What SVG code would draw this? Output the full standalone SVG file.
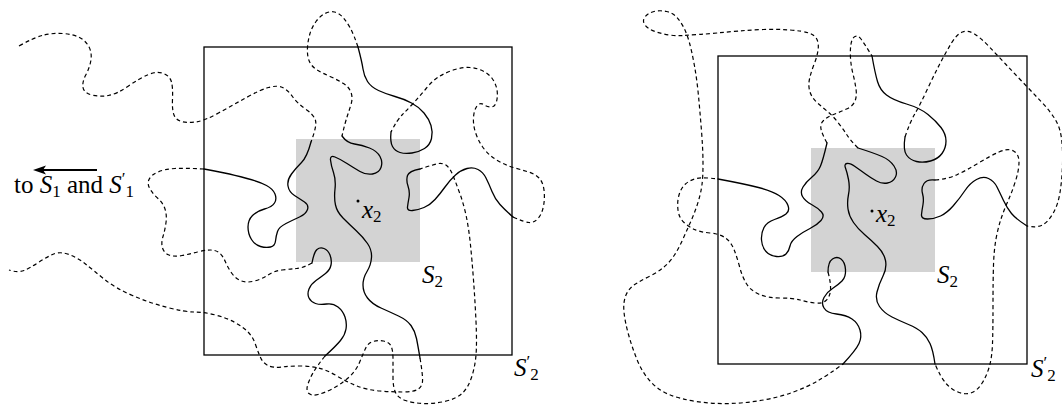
<svg xmlns="http://www.w3.org/2000/svg" width="1062" height="405" viewBox="0 0 1062 405">
<style>
.box{fill:none;stroke:#000;stroke-width:1.3}
.gray{fill:#d3d3d3;stroke:none}
.sol{fill:none;stroke:#000;stroke-width:1.3;stroke-linecap:round}
.das{fill:none;stroke:#000;stroke-width:1.2;stroke-dasharray:4 3}
text{font-family:'Liberation Serif','DejaVu Serif',serif;fill:#000}
.t{font-size:25px}
.m{font-style:italic;font-size:25px}
.s{font-style:normal;font-size:17px}
</style>
<rect width="1062" height="405" fill="#fff"/>
<g id="left-panel">
<rect id="left-S2" class="gray" x="296" y="139" width="124" height="123"/>
<g id="left-curves">
<path class="das" d="M19,46 Q35,37 44,35 Q53,33 62.5,33.5 Q72,34 78.5,37 Q85,40 88.5,46 Q92,52 91,59.5 Q90,67 86,74.5 Q82,82 83,87.5 Q84,93 92,95 Q100,97 108.5,95.5 Q117,94 128.5,86 Q140,78 148.5,74.5 Q157,71 163.5,73.5 Q170,76 171.5,82 Q173,88 172.5,99 Q172,110 174,115 Q176,120 181.5,121.5 Q187,123 195.5,122 Q204,121 218.5,113 Q233,105 246.5,97.5 Q260,90 268.5,87.5 Q277,85 282.5,87.5 Q288,90 292.5,96.5 Q297,103 305.5,109 Q314,115 315.5,120.5 Q317,126 311,142"/>
<path class="sol" d="M311,142 Q307,157 301.5,162.5 Q296,168 291.5,174 Q287,180 288,186 Q289,192 294.5,195.5 Q300,199 304.5,202 Q309,205 307.5,209.5 Q306,214 299.5,217 Q293,220 286,223.5 Q279,227 277.5,231.5 Q276,236 275.5,241 Q275,246 270.5,247 Q266,248 260.5,246.5 Q255,245 251.5,239.5 Q248,234 248,227 Q248,220 252.5,215.5 Q257,211 264.5,209 Q272,207 274.5,203 Q277,199 275,194 Q273,189 266.5,185.5 Q260,182 247,178.5 Q234,175 224.5,173 Q215,171 204,169"/>
<path class="das" d="M204,169 Q185,168 175,168.5 Q165,169 158,172 Q151,175 149,179.5 Q147,184 150,189 Q153,194 158,198.5 Q163,203 165,209 Q167,215 166,222.5 Q165,230 163,236.5 Q161,243 162.5,248 Q164,253 169,255 Q174,257 182,255.5 Q190,254 197.5,252 Q205,250 210.5,250 Q216,250 219.5,253 Q223,256 225.5,262 Q228,268 232,273.5 Q236,279 241.5,281 Q247,283 254.5,281 Q262,279 268,275 Q274,271 282,270 Q290,269 296.5,268.5 Q303,268 312,263"/>
<path class="sol" d="M312,263 Q314,252 317,249.5 Q320,247 324,248.5 Q328,250 330,255 Q332,260 331,265 Q330,270 325.5,273.5 Q321,277 316,280.5 Q311,284 309,289 Q307,294 309,298 Q311,302 315.5,303.5 Q320,305 326.5,304 Q333,303 338,307 Q343,311 345,317 Q347,323 346,329 Q345,335 340.5,340.5 Q336,346 325,356"/>
<path class="das" d="M325,356 Q317,366 313,373 Q309,380 307.5,385.5 Q306,391 309,393.5 Q312,396 318,394.5 Q324,393 332,389 Q340,385 348,378 Q356,371 359.5,362.5 Q363,354 365.5,348.5 Q368,343 373,341.5 Q378,340 383.5,341 Q389,342 391,346 Q393,350 393,359 Q393,368 393,377.5 Q393,387 395.5,392.5 Q398,398 405.5,400.5 Q413,403 423,403.5 Q433,404 444.5,401.5 Q456,399 462,393.5 Q468,388 471.5,377.5 Q475,367 476,355 Q477,343 476,321.5 Q475,300 473.5,280 Q472,260 470.5,245 Q469,230 466.5,217.5 Q464,205 460,194 Q456,183 453,175.5 Q450,168 446.5,165.5 Q443,163 439,163.5 Q435,164 420,169"/>
<path class="sol" d="M420,169 Q409,171 407.5,175.5 Q406,180 408,186 Q410,192 409,197.5 Q408,203 407.5,207 Q407,211 412.5,210.5 Q418,210 424,207.5 Q430,205 435,199.5 Q440,194 445,187 Q450,180 455.5,175 Q461,170 467,168.5 Q473,167 478,169.5 Q483,172 486,178 Q489,184 492,191.5 Q495,199 500,204.5 Q505,210 513,217"/>
<path class="das" d="M513,217 Q524,222 529,222.5 Q534,223 538,218.5 Q542,214 543.5,206 Q545,198 544,190 Q543,182 539,178 Q535,174 528.5,172 Q522,170 515,168 Q508,166 502,163 Q496,160 491,156 Q486,152 482,146 Q478,140 475.5,132.5 Q473,125 473.5,117.5 Q474,110 477,106 Q480,102 483.5,104.5 Q487,107 491,107 Q495,107 496.5,101.5 Q498,96 497,90 Q496,84 492.5,79 Q489,74 483,71 Q477,68 470,67.5 Q463,67 455,69.5 Q447,72 440,76 Q433,80 426.5,88 Q420,96 413.5,103 Q407,110 402,115 Q397,120 391,132"/>
<path class="sol" d="M391,132 Q390,142 392.5,146.5 Q395,151 400,152.5 Q405,154 412,153 Q419,152 424.5,148.5 Q430,145 431.5,138.5 Q433,132 431,125.5 Q429,119 424,113 Q419,107 411.5,103 Q404,99 395,96.5 Q386,94 378.5,90.5 Q371,87 367.5,81.5 Q364,76 363,69 Q362,62 358,47"/>
<path class="das" d="M358,47 Q354,35 350.5,28.5 Q347,22 343,17.5 Q339,13 334.5,12 Q330,11 325,13.5 Q320,16 316,21.5 Q312,27 310,33.5 Q308,40 307.5,47.5 Q307,55 309,60.5 Q311,66 316.5,69.5 Q322,73 330,76.5 Q338,80 343.5,83.5 Q349,87 351,92.5 Q353,98 351,104.5 Q349,111 347,117 Q345,123 342,136"/>
<path class="sol" d="M342,136 Q347,143 354.5,144 Q362,145 369.5,148 Q377,151 380,156.5 Q383,162 381,167.5 Q379,173 372.5,174 Q366,175 360,171.5 Q354,168 347,163.5 Q340,159 335,157 Q330,155 330.5,160 Q331,165 333.5,172.5 Q336,180 335,189 Q334,198 335.5,205 Q337,212 343,218 Q349,224 356,230.5 Q363,237 367.5,243.5 Q372,250 371.5,257.5 Q371,265 367,271.5 Q363,278 363,285 Q363,292 367.5,298 Q372,304 381,308 Q390,312 398.5,316 Q407,320 411,325.5 Q415,331 416.5,338.5 Q418,346 420,358"/>
<path class="das" d="M420,358 Q423,376 422.5,381.5 Q422,387 417.5,389.5 Q413,392 403,392 Q393,392 380,391 Q367,390 357,386 Q347,382 337,376 Q327,370 318.5,368 Q310,366 300,366 Q290,366 281.5,367 Q273,368 268,365.5 Q263,363 260.5,357.5 Q258,352 255.5,344.5 Q253,337 248,332 Q243,327 235,322.5 Q227,318 215.5,315 Q204,312 194.5,312 Q185,312 167.5,307.5 Q150,303 132.5,295.5 Q115,288 104,279 Q93,270 85.5,264 Q78,258 69,254.5 Q60,251 52.5,254.5 Q45,258 37.5,263 Q30,268 24,270.5 Q18,273 9,270"/>
</g>
<rect id="left-S2prime" class="box" x="204" y="47" width="308" height="308"/>
<g id="left-x2">
<circle cx="358" cy="201" r="1.5" fill="#000"/>
<text class="m" x="362" y="218">x<tspan class="s" dy="4">2</tspan></text>
</g>
<g id="left-S2-label"><text class="m" x="422" y="283">S<tspan class="s" dy="4">2</tspan></text></g>
<g id="left-S2prime-label"><text class="m" x="514" y="376">S<tspan class="s" dy="-9">′</tspan><tspan class="s" dy="13">2</tspan></text></g>
<g id="arrow-label">
<line x1="97" y1="170" x2="42" y2="170" stroke="#000" stroke-width="2.2"/>
<polygon points="33,170 46,165.5 43,170 46,174.5" fill="#000"/>
<text class="t" x="14" y="193">to <tspan class="m">S</tspan><tspan class="s" dy="4">1</tspan><tspan dy="-4"> and </tspan><tspan class="m">S</tspan><tspan class="s" dy="-9">′</tspan><tspan class="s" dy="13">1</tspan></text>
</g>
</g>
<g id="right-panel">
<rect id="right-S2" class="gray" x="811" y="148" width="124" height="124"/>
<g id="right-curves">
<path class="sol" d="M718,179 Q745,184 758.5,187.5 Q772,191 779,195.5 Q786,200 788,205.5 Q790,211 786,214 Q782,217 774.5,219.5 Q767,222 764,227.5 Q761,233 761.5,240 Q762,247 766,251.5 Q770,256 776.5,256.5 Q783,257 786,254 Q789,251 790,246 Q791,241 797,236.5 Q803,232 810,228.5 Q817,225 821,220.5 Q825,216 821.5,212 Q818,208 811.5,204.5 Q805,201 802.5,196.5 Q800,192 803,187 Q806,182 812,177 Q818,172 820.5,166 Q823,160 827,143"/>
<path class="das" d="M827,143 Q822,134 821,129 Q820,124 823.5,120.5 Q827,117 833.5,114.5 Q840,112 846.5,109 Q853,106 855,101 Q857,96 856,89 Q855,82 853,74 Q851,66 850.5,58 Q850,50 851,44 Q852,38 855,36.5 Q858,35 861,39 Q864,43 872,56"/>
<path class="sol" d="M872,56 Q875,73 877.5,81.5 Q880,90 886.5,95 Q893,100 906.5,104 Q920,108 928,114.5 Q936,121 941,127.5 Q946,134 946,141 Q946,148 942,153.5 Q938,159 930.5,161 Q923,163 916.5,161.5 Q910,160 906.5,155 Q903,150 905,137"/>
<path class="das" d="M905,137 Q910,122 915,113.5 Q920,105 926.5,91 Q933,77 939.5,64.5 Q946,52 951.5,43 Q957,34 962.5,32 Q968,30 974.5,34 Q981,38 989,46.5 Q997,55 1005.5,64 Q1014,73 1023.5,83 Q1033,93 1041.5,102 Q1050,111 1055,119 Q1060,127 1061.5,138.5 Q1063,150 1062.5,165 Q1062,180 1060,192.5 Q1058,205 1053,213.5 Q1048,222 1042.5,225 Q1037,228 1027,226"/>
<path class="sol" d="M1027,226 Q1016,219 1011.5,213.5 Q1007,208 1003.5,200.5 Q1000,193 997,187 Q994,181 988.5,178.5 Q983,176 976.5,179.5 Q970,183 965,190.5 Q960,198 953.5,205.5 Q947,213 940.5,216 Q934,219 927.5,219 Q921,219 921.5,214.5 Q922,210 923,204.5 Q924,199 922.5,193.5 Q921,188 924,183.5 Q927,179 935,180"/>
<path class="das" d="M935,180 Q948,179 957.5,174.5 Q967,170 978.5,163 Q990,156 999,152 Q1008,148 1013.5,151 Q1019,154 1019,162 Q1019,170 1015.5,181 Q1012,192 1008,201 Q1004,210 1001,219 Q998,228 996,239 Q994,250 993.5,265 Q993,280 993,305 Q993,330 992.5,343.5 Q992,357 989.5,366 Q987,375 982.5,382.5 Q978,390 972,392.5 Q966,395 959,392.5 Q952,390 946.5,384 Q941,378 935,364"/>
<path class="sol" d="M935,364 Q933,350 930,343.5 Q927,337 922,332.5 Q917,328 908.5,324.5 Q900,321 892,317 Q884,313 879.5,306.5 Q875,300 877,292 Q879,284 883,276 Q887,268 885.5,260.5 Q884,253 877.5,246.5 Q871,240 864.5,234.5 Q858,229 853.5,222.5 Q849,216 848,209 Q847,202 848.5,194.5 Q850,187 848.5,179.5 Q847,172 845.5,168 Q844,164 847,163.5 Q850,163 855,166.5 Q860,170 865.5,174 Q871,178 876.5,181 Q882,184 887.5,183 Q893,182 895.5,177 Q898,172 894,166 Q890,160 882,156.5 Q874,153 858,148"/>
<path class="das" d="M858,148 Q851,141 847,135 Q843,129 838,122.5 Q833,116 827.5,111.5 Q822,107 817,102.5 Q812,98 810,92 Q808,86 809.5,79 Q811,72 814,64.5 Q817,57 818,50.5 Q819,44 817,39.5 Q815,35 809,33 Q803,31 790,30 Q777,29 763.5,29.5 Q750,30 738.5,31 Q727,32 717,33 Q707,34 698.5,34.5 Q690,35 683.5,35.5 Q677,36 669.5,35 Q662,34 655,31.5 Q648,29 645,25 Q642,21 645,17 Q648,13 654,11.5 Q660,10 666.5,11.5 Q673,13 677,17.5 Q681,22 684,28 Q687,34 689.5,43 Q692,52 694.5,66 Q697,80 698.5,96 Q700,112 701.5,131 Q703,150 703,163.5 Q703,177 702,184.5 Q701,192 699,199 Q697,206 694.5,212.5 Q692,219 689,225.5 Q686,232 682.5,240 Q679,248 674.5,255 Q670,262 664,267 Q658,272 650,276 Q642,280 635.5,284 Q629,288 626,295 Q623,302 624,312 Q625,322 628.5,334.5 Q632,347 637,359.5 Q642,372 650,381 Q658,390 669,394.5 Q680,399 696.5,401.5 Q713,404 730,403.5 Q747,403 763.5,400 Q780,397 793.5,392 Q807,387 817.5,381 Q828,375 843,364"/>
<path class="sol" d="M843,364 Q856,350 859,343.5 Q862,337 860,330 Q858,323 852,319 Q846,315 836.5,314 Q827,313 824,308 Q821,303 824,297.5 Q827,292 832.5,288.5 Q838,285 842,281 Q846,277 845.5,269.5 Q845,262 841,259 Q837,256 832.5,259 Q828,262 828,272"/>
<path class="das" d="M828,272 Q831,283 830.5,290 Q830,297 826,300.5 Q822,304 814.5,303 Q807,302 800,300 Q793,298 780,298 Q767,298 758.5,294 Q750,290 746,283 Q742,276 739.5,266.5 Q737,257 734,249.5 Q731,242 725.5,238 Q720,234 710,233 Q700,232 694.5,229.5 Q689,227 684,222.5 Q679,218 678,210 Q677,202 679,195 Q681,188 685.5,184 Q690,180 696.5,178.5 Q703,177 718,179"/>
</g>
<rect id="right-S2prime" class="box" x="718" y="56" width="309" height="308"/>
<g id="right-x2">
<circle cx="872" cy="211" r="1.5" fill="#000"/>
<text class="m" x="876" y="222">x<tspan class="s" dy="4">2</tspan></text>
</g>
<g id="right-S2-label"><text class="m" x="937" y="283">S<tspan class="s" dy="4">2</tspan></text></g>
<g id="right-S2prime-label"><text class="m" x="1031" y="377">S<tspan class="s" dy="-9">′</tspan><tspan class="s" dy="13">2</tspan></text></g>
</g>
</svg>
